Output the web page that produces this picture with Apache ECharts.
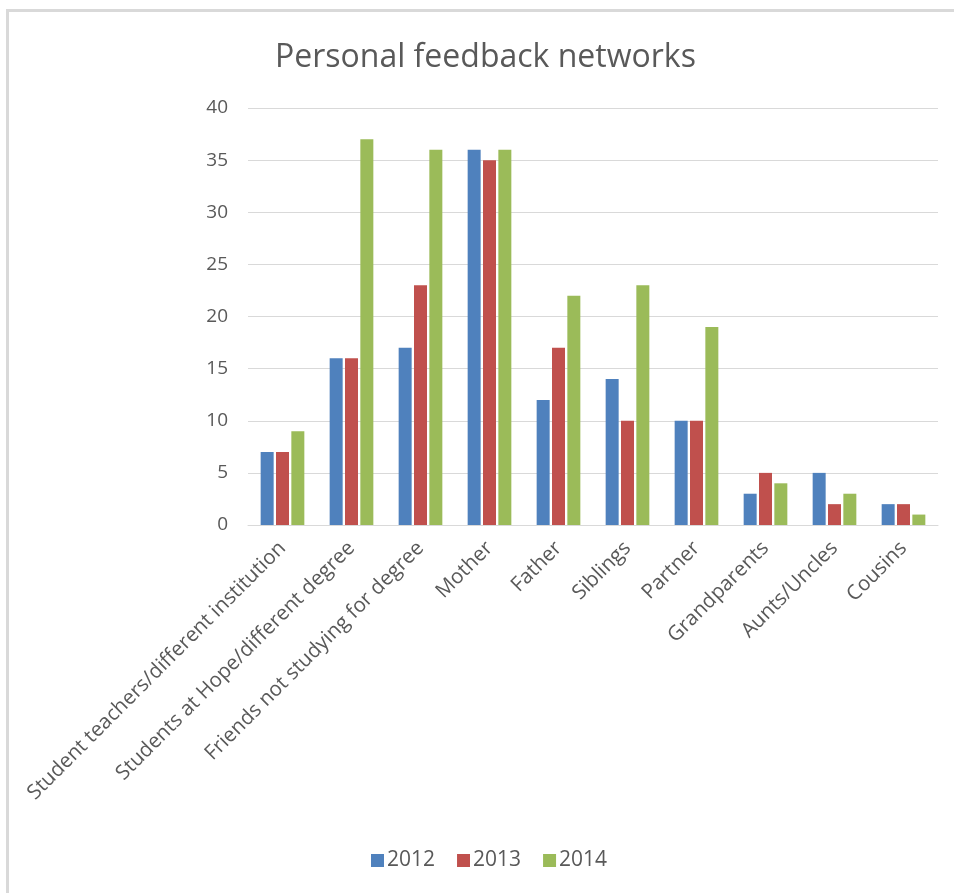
<!DOCTYPE html>
<html>
<head>
<meta charset="utf-8">
<script src="https://cdn.jsdelivr.net/npm/echarts@6/dist/echarts.min.js"></script>
<style>html,body{margin:0;padding:0;background:#fff;}#c{width:954px;height:893px;}</style>
</head>
<body>
<div id="c"></div>
<script>
const categories = ["Student teachers/different institution","Students at Hope/different degree","Friends not studying for degree","Mother","Father","Siblings","Partner","Grandparents","Aunts/Uncles","Cousins"];
const seriesNames = ["2012","2013","2014"];
const values2012 = [7,16,17,36,12,14,10,3,5,2];
const values2013 = [7,16,23,35,17,10,10,5,2,2];
const values2014 = [9,37,36,36,22,23,19,4,3,1];
const colors = ["#4F81BD","#C0504D","#9BBB59"];
const font = "Open Sans, Noto Sans, sans-serif";
const allValues = [values2012, values2013, values2014];

const chart = echarts.init(document.getElementById('c'));
chart.setOption({
  animation: false,
  backgroundColor: '#fff',
  graphic: [{
    type: 'rect', left: 5, top: 8, shape: {width: 1000, height: 900},
    style: {fill: 'none', stroke: '#d9d9d9', lineWidth: 3}, silent: true
  }],
  title: {
    text: 'Personal feedback networks', left: 270, top: 37,
    textStyle: {fontFamily: font, fontSize: 32, fontWeight: 'normal', color: '#595959'}
  },
  legend: {
    bottom: 17, left: 366, itemWidth: 13, itemHeight: 13, itemGap: 22,
    icon: 'rect',
    textStyle: {fontFamily: font, fontSize: 21, color: '#595959', padding: [0,0,0,-2]},
    data: seriesNames
  },
  grid: {left: 248, right: 16, top: 108, bottom: 368, containLabel: false},
  xAxis: {
    type: 'category', data: categories,
    axisLine: {lineStyle: {color: '#d9d9d9', width: 1}},
    axisTick: {show: false},
    axisLabel: {rotate: 45, interval: 0, fontFamily: font, fontSize: 20.5, color: '#595959', margin: 20}
  },
  yAxis: {
    type: 'value', min: 0, max: 40, interval: 5,
    axisLine: {show: false}, axisTick: {show: false},
    splitLine: {lineStyle: {color: '#d9d9d9', width: 1}},
    axisLabel: {fontFamily: font, fontSize: 19, color: '#595959', margin: 20}
  },
  series: seriesNames.map((n, i) => ({
    name: n, type: 'bar', data: allValues[i],
    itemStyle: {color: colors[i]},
    barWidth: 13, barGap: '18%'
  }))
});
</script>
</body>
</html>
